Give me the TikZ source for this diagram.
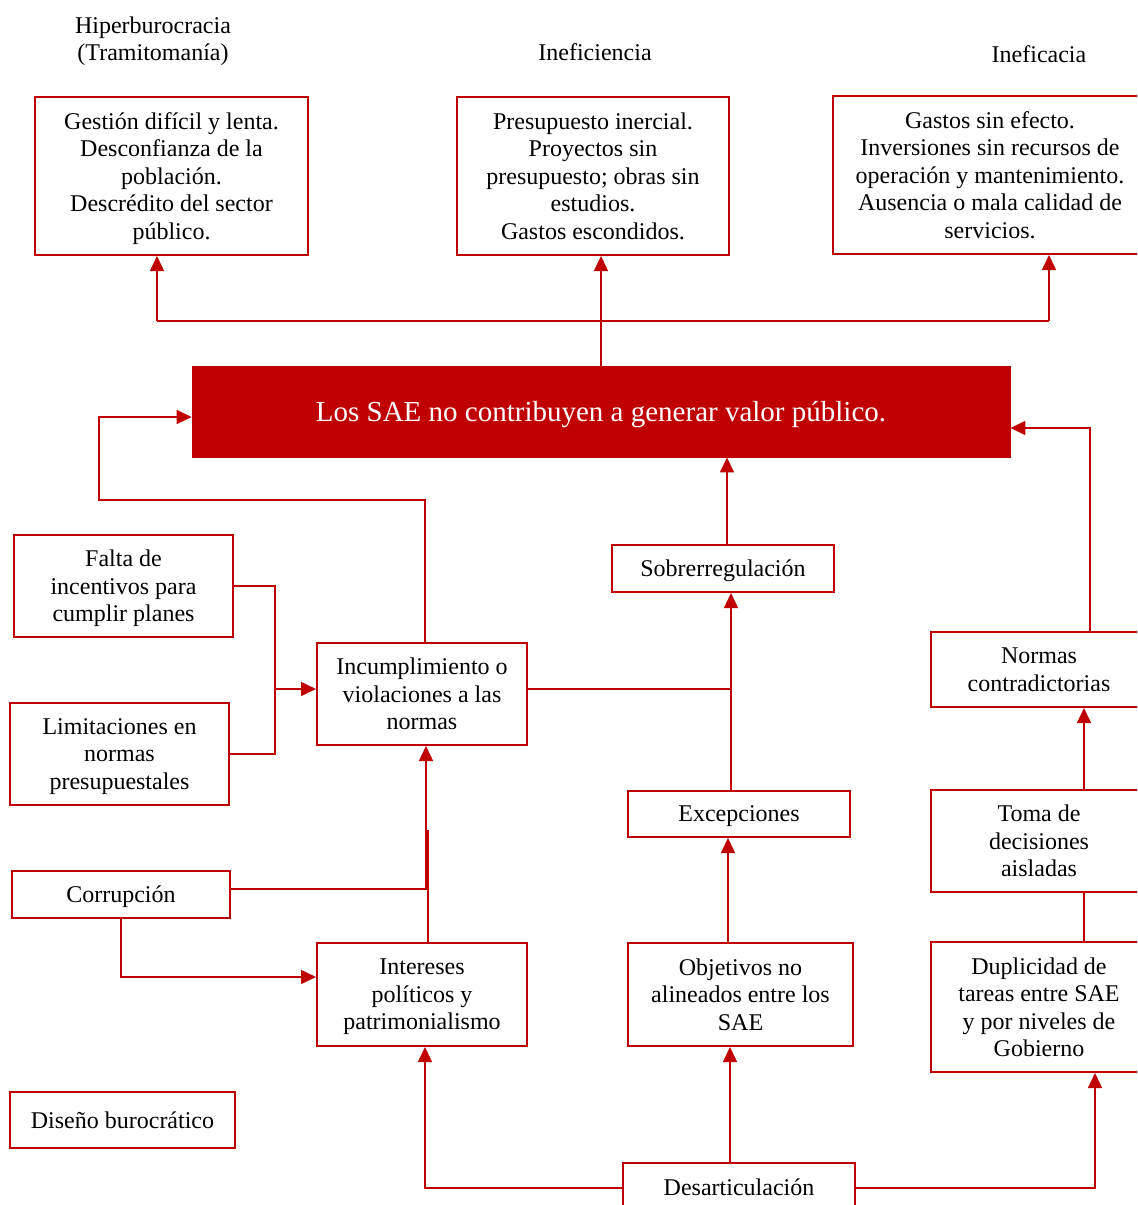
\documentclass[tikz,border=0pt]{standalone}
\usepackage{fontspec}
\setmainfont{Liberation Serif}
\usetikzlibrary{arrows.meta}
\definecolor{myred}{HTML}{C00000}
\begin{document}
\begin{tikzpicture}[x=0.5pt,y=-0.5pt,
  box/.style={draw=myred, line width=1pt, align=center, inner sep=0pt, fill=white,
    text depth=0pt, font=\fontsize{12}{13.75}\selectfont},
  hdr/.style={align=center, inner sep=0pt, font=\fontsize{12}{13.75}\selectfont},
  conn/.style={draw=myred, line width=0.75pt},
  arr/.style={conn, -{Triangle[width=7pt,length=7.5pt]}}]
\useasboundingbox (0,0) rectangle (1137,1205);
\clip (0,0) rectangle (1137,1205);
% headers
\node[hdr] (h1) at (153,41) {Hiperburocracia\\(Tramitomanía)};
\node[hdr] (h2) at (595,52) {Ineficiencia};
\node[hdr] (h3) at (1039,54) {Ineficacia};
% top boxes
\node[box, minimum width=136.5pt, minimum height=79pt] (topL) at (171.5,176)
  {Gestión difícil y lenta.\\Desconfianza de la\\población.\\Descrédito del sector\\público.};
\node[box, minimum width=136pt, minimum height=79pt] (topM) at (593,176)
  {Presupuesto inercial.\\Proyectos sin\\presupuesto; obras sin\\estudios.\\Gastos escondidos.};
\node[box, minimum width=157pt, minimum height=79pt] (topR) at (990,175)
  {Gastos sin efecto.\\Inversiones sin recursos de\\operación y mantenimiento.\\Ausencia o mala calidad de\\servicios.};
% main
\node[fill=myred, draw=myred, minimum width=409pt, minimum height=45.5pt, inner sep=0pt,
  text depth=0pt, text=white, font=\fontsize{14.5}{16}\selectfont] (main) at (601,411.5)
  {Los SAE no contribuyen a generar valor público.};
% left
\node[box, minimum width=109.5pt, minimum height=51pt] (falta) at (123.5,586)
  {Falta de\\incentivos para\\cumplir planes};
\node[box, minimum width=109.5pt, minimum height=51pt] (limit) at (119.5,754)
  {Limitaciones en\\normas\\presupuestales};
\node[box, minimum width=105pt, minimum height=51pt] (incump) at (422,694)
  {Incumplimiento o\\violaciones a las\\normas};
\node[box, minimum width=111pt, minimum height=23.5pt] (sobre) at (723,568.5)
  {Sobrerregulación};
\node[box, minimum width=111pt, minimum height=23pt] (excep) at (739,814)
  {Excepciones};
\node[box, minimum width=108pt, minimum height=37.5pt] (normas) at (1039,669.5)
  {Normas\\contradictorias};
\node[box, minimum width=108pt, minimum height=51pt] (toma) at (1039,841)
  {Toma de\\decisiones\\aisladas};
\node[box, minimum width=108pt, minimum height=65pt] (dupl) at (1039,1007)
  {Duplicidad de\\tareas entre SAE\\y por niveles de\\Gobierno};
\node[box, minimum width=109pt, minimum height=23.5pt] (corr) at (121,894.5)
  {Corrupción};
\node[box, minimum width=105pt, minimum height=51.5pt] (inter) at (422,994.5)
  {Intereses\\políticos y\\patrimonialismo};
\node[box, minimum width=112.5pt, minimum height=51.5pt] (objet) at (740.5,994.5)
  {Objetivos no\\alineados entre los\\SAE};
\node[box, minimum width=112.5pt, minimum height=28pt] (diseno) at (122.5,1120)
  {Diseño burocrático};
\node[box, minimum width=116pt, minimum height=24pt] (desart) at (739,1187)
  {Desarticulación};
% junction coordinates
\coordinate (jt) at (601,321);
\coordinate (jtl) at (157,321);
\coordinate (jtr) at (1049,321);
\coordinate (jl) at (275,689);
\coordinate (c1) at (425,500);
\coordinate (c2) at (99,500);
\coordinate (c3) at (99,417);
\coordinate (jx) at (731,689);
\coordinate (s1) at (727,500);
\coordinate (n1) at (1090,428);
\coordinate (t1) at (1084,800);
\coordinate (k1) at (426,889);
\coordinate (k2) at (428,830);
\coordinate (k3) at (121,977);
\coordinate (o1) at (728,900);
\coordinate (d1) at (730,1100);
\coordinate (d2) at (425,1188);
\coordinate (d3) at (1095,1188);
% connectors
\draw[conn] (main.north) -- (jt);
\draw[conn] (jtl) -- (jtr);
\draw[arr] (jtl) -- (jtl |- topL.south);
\draw[arr] (jt) -- (jt |- topM.south);
\draw[arr] (jtr) -- (jtr |- topR.south);
\draw[conn] (falta.east) -| (jl);
\draw[conn] (limit.east) -| (jl);
\draw[arr] (jl) -- (jl -| incump.west);
\draw[arr] (c1 |- incump.north) -- (c1) -- (c2) -- (c3) -- (c3 -| main.west);
\draw[conn] (jx -| incump.east) -- (jx);
\draw[arr] (jx |- excep.north) -- (jx |- sobre.south);
\draw[arr] (s1 |- sobre.north) -- (s1 |- main.south);
\draw[arr] (n1 |- normas.north) -- (n1) -- (n1 -| main.east);
\draw[arr] (t1 |- toma.north) -- (t1 |- normas.south);
\draw[conn] (t1 |- dupl.north) -- (t1 |- toma.south);
\draw[arr] (k1 -| corr.east) -- (k1) -- (k1 |- incump.south);
\draw[conn] (k2 |- inter.north) -- (k2);
\draw[arr] (corr.south) -- (k3) -- (k3 -| inter.west);
\draw[arr] (o1 |- objet.north) -- (o1 |- excep.south);
\draw[arr] (d1 |- desart.north) -- (d1 |- objet.south);
\draw[arr] (d2 -| desart.west) -- (d2) -- (d2 |- inter.south);
\draw[arr] (d3 -| desart.east) -- (d3) -- (d3 |- dupl.south);
\end{tikzpicture}
\end{document}
